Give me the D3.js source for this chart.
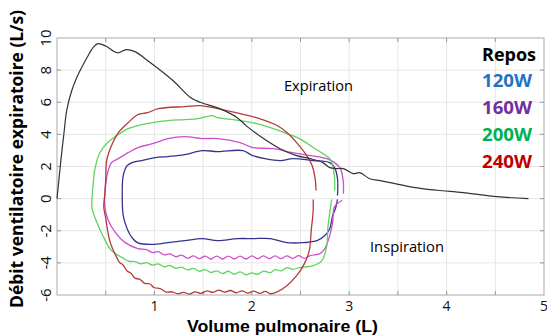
<!DOCTYPE html>
<html>
<head>
<meta charset="utf-8">
<script src="https://cdn.jsdelivr.net/npm/d3@7"></script>
<style>
  body { margin: 0; background: #fff; }
  text { font-family: "Open Sans", sans-serif; }
</style>
</head>
<body>
<svg id="chart" width="547" height="336"></svg>
<script>
const xTicks = [1, 2, 3, 4, 5];
const yTicks = [-6, -4, -2, 0, 2, 4, 6, 8, 10];
const legendLabels = ["Repos", "120W", "160W", "200W", "240W"];
const legendColors = ["#000000", "#1f74c4", "#7030a0", "#00b050", "#c00000"];

// [volume (L), debit (L/s)]
const reposCurve = [
  [0, 0], [0.02, 1.2], [0.04, 2.4], [0.07, 4.0], [0.1, 5.5], [0.15, 6.7], [0.2, 7.5],
  [0.31, 8.8], [0.37, 9.4], [0.42, 9.65], [0.5, 9.5], [0.62, 9.08], [0.71, 9.28],
  [0.8, 9.15], [0.95, 8.5], [1.19, 7.35], [1.37, 6.3], [1.47, 6.0], [1.67, 5.6],
  [1.85, 5.04], [1.95, 4.5], [2.12, 3.74], [2.29, 3.11], [2.46, 2.68], [2.6, 2.49],
  [2.73, 2.24], [2.8, 1.93], [2.87, 1.87], [2.94, 1.87], [3.04, 1.56], [3.11, 1.62],
  [3.21, 1.24], [3.32, 1.12], [3.42, 1.0], [3.66, 0.7], [3.9, 0.52], [4.17, 0.37],
  [4.52, 0.12], [4.84, 0.0]
];

const loop120 = [
  [2.88, -0.05], [2.86, -0.6], [2.83, -1.06], [2.8, -1.87], [2.75, -2.3], [2.67, -2.62],
  [2.53, -2.74], [2.36, -2.74], [2.19, -2.49], [2.01, -2.49], [1.85, -2.49], [1.65, -2.62],
  [1.49, -2.49], [1.31, -2.62], [1.14, -2.74], [0.98, -2.85], [0.83, -2.76], [0.77, -2.43],
  [0.72, -1.87], [0.68, -1.06], [0.67, 0], [0.68, 1.43], [0.72, 2.05], [0.77, 2.24],
  [0.87, 2.37], [1.01, 2.55], [1.14, 2.62], [1.31, 2.74], [1.49, 2.99], [1.65, 2.93],
  [1.91, 2.99], [2.01, 2.68], [2.29, 2.37], [2.42, 2.49], [2.63, 2.37], [2.8, 2.24],
  [2.85, 1.93], [2.88, 1.25], [2.88, 0.19]
];

const loop160 = [
  [2.93, -0.1], [2.85, -0.5], [2.83, -1.49], [2.8, -2.3], [2.75, -3.11], [2.7, -3.42],
  [2.6, -3.55], [2.54, -3.72], [2.48, -3.55], [2.42, -3.72], [2.36, -3.56], [2.3, -3.74],
  [2.24, -3.56], [2.18, -3.74], [2.12, -3.56], [2.06, -3.74], [2.0, -3.56], [1.94, -3.76],
  [1.88, -3.58], [1.82, -3.76], [1.76, -3.58], [1.7, -3.76], [1.64, -3.58], [1.58, -3.76],
  [1.52, -3.58], [1.46, -3.74], [1.4, -3.56], [1.34, -3.72], [1.28, -3.52], [1.22, -3.62],
  [1.16, -3.44], [1.1, -3.5], [1.04, -3.3], [0.98, -3.36], [0.92, -3.18], [0.83, -3.11],
  [0.7, -2.74], [0.6, -2.12], [0.52, -1.25], [0.49, -0.44], [0.49, 0.19], [0.52, 1.62],
  [0.56, 2.24], [0.63, 2.49], [0.73, 2.86], [0.83, 3.18], [0.98, 3.42], [1.14, 3.74],
  [1.31, 3.86], [1.49, 3.74], [1.65, 3.74], [1.88, 3.49], [2.01, 3.18], [2.22, 3.11],
  [2.42, 2.86], [2.6, 2.68], [2.77, 2.49], [2.85, 2.24], [2.91, 1.87], [2.94, 1.0],
  [2.94, 0.31]
];

const loop200 = [
  [2.82, -0.05], [2.8, -0.9], [2.78, -1.87], [2.77, -2.93], [2.72, -3.86], [2.63, -4.17],
  [2.49, -4.3], [2.42, -4.4], [2.36, -4.3], [2.3, -4.5], [2.24, -4.42], [2.19, -4.61],
  [2.12, -4.52], [2.06, -4.72], [2.0, -4.62], [1.94, -4.74], [1.88, -4.56], [1.82, -4.7],
  [1.76, -4.52], [1.7, -4.66], [1.64, -4.5], [1.58, -4.6], [1.52, -4.42], [1.46, -4.52],
  [1.4, -4.34], [1.34, -4.44], [1.28, -4.26], [1.22, -4.34], [1.16, -4.16], [1.1, -4.24],
  [1.04, -4.06], [0.98, -4.14], [0.92, -3.98], [0.86, -4.06], [0.8, -3.92], [0.74, -3.9],
  [0.67, -3.67], [0.56, -3.24], [0.47, -2.3], [0.41, -1.49], [0.36, -0.62], [0.36, 0],
  [0.37, 0.8], [0.39, 1.87], [0.44, 2.86], [0.52, 3.49], [0.63, 3.99], [0.73, 4.36],
  [0.83, 4.55], [0.98, 4.73], [1.14, 4.86], [1.31, 4.92], [1.45, 4.98], [1.59, 5.17],
  [1.65, 5.04], [1.88, 4.86], [2.05, 4.67], [2.22, 4.36], [2.36, 4.05], [2.49, 3.74],
  [2.63, 3.18], [2.73, 2.8], [2.8, 2.49], [2.83, 2.05], [2.85, 1.25], [2.85, 0.5]
];

const loop240 = [
  [2.63, -0.05], [2.63, -0.75], [2.61, -1.99], [2.59, -3.24], [2.53, -4.17], [2.46, -4.79],
  [2.36, -5.42], [2.26, -5.8], [2.19, -5.92], [2.14, -5.78], [2.08, -5.9], [2.02, -5.76],
  [1.96, -5.88], [1.9, -5.74], [1.84, -5.86], [1.78, -5.72], [1.72, -5.82], [1.66, -5.7],
  [1.6, -5.84], [1.54, -5.74], [1.48, -5.9], [1.42, -5.8], [1.36, -5.94], [1.3, -5.84],
  [1.24, -5.92], [1.18, -5.8], [1.12, -5.82], [1.06, -5.6], [1.0, -5.55], [0.95, -5.3],
  [0.9, -5.28], [0.85, -5.02], [0.8, -4.95], [0.76, -4.65], [0.72, -4.5], [0.68, -4.15],
  [0.64, -3.95], [0.6, -3.5], [0.57, -3.1], [0.54, -2.6], [0.52, -2.0], [0.5, -1.2],
  [0.48, -0.5], [0.49, 0.2], [0.5, 1.2], [0.51, 2.37], [0.56, 3.3], [0.63, 4.11],
  [0.73, 4.73], [0.83, 5.23], [0.93, 5.35], [1.04, 5.6], [1.31, 5.73], [1.47, 5.79],
  [1.65, 5.6], [1.88, 5.29], [2.08, 4.98], [2.26, 4.55], [2.36, 4.11], [2.46, 3.49],
  [2.55, 2.8], [2.62, 2.05], [2.65, 1.25], [2.66, 0.5]
];

const loops = [
  { data: loop120, color: "#34348f" },
  { data: loop160, color: "#cc4fcc" },
  { data: loop200, color: "#5ed35e" },
  { data: loop240, color: "#b23c3c" }
];

const svg = d3.select("#chart");
const plotLeft = 57, plotRight = 544, plotTop = 38, plotBottom = 295;

const x = d3.scaleLinear().domain([0, 5]).range([plotLeft, plotRight]);
const y = d3.scaleLinear().domain([-6, 10]).range([plotBottom, plotTop]);

// grid
svg.append("g")
  .selectAll("line")
  .data(d3.range(0.5, 5, 0.5))
  .join("line")
  .attr("x1", d => x(d)).attr("x2", d => x(d))
  .attr("y1", plotTop).attr("y2", plotBottom)
  .attr("stroke", "#e6e6e6");

svg.append("g")
  .selectAll("line")
  .data(d3.range(-4, 10, 2))
  .join("line")
  .attr("x1", plotLeft).attr("x2", plotRight)
  .attr("y1", d => y(d)).attr("y2", d => y(d))
  .attr("stroke", "#e6e6e6");

// frame and inner ticks
svg.append("rect")
  .attr("x", plotLeft).attr("y", plotTop)
  .attr("width", plotRight - plotLeft).attr("height", plotBottom - plotTop)
  .attr("fill", "none").attr("stroke", "#aaa");

const xMinor = d3.range(0.5, 5, 0.5);
svg.append("g").selectAll("line").data(xMinor).join("line")
  .attr("x1", d => x(d)).attr("x2", d => x(d))
  .attr("y1", plotBottom).attr("y2", plotBottom - 4).attr("stroke", "#999");
svg.append("g").selectAll("line").data(xMinor).join("line")
  .attr("x1", d => x(d)).attr("x2", d => x(d))
  .attr("y1", plotTop).attr("y2", plotTop + 4).attr("stroke", "#999");
const yMinor = d3.range(-4, 10, 2);
svg.append("g").selectAll("line").data(yMinor).join("line")
  .attr("x1", plotLeft).attr("x2", plotLeft + 4)
  .attr("y1", d => y(d)).attr("y2", d => y(d)).attr("stroke", "#999");
svg.append("g").selectAll("line").data(yMinor).join("line")
  .attr("x1", plotRight).attr("x2", plotRight - 4)
  .attr("y1", d => y(d)).attr("y2", d => y(d)).attr("stroke", "#999");

// tick labels
svg.append("g").selectAll("text").data(xTicks).join("text")
  .attr("x", d => x(d)).attr("y", 311)
  .attr("text-anchor", "middle")
  .attr("font-size", 14).attr("fill", "#111")
  .text(d => d);

svg.append("g").selectAll("text").data(yTicks).join("text")
  .attr("transform", d => `translate(46,${y(d)}) rotate(-90)`)
  .attr("text-anchor", "middle").attr("dy", "0.35em")
  .attr("font-size", 15).attr("fill", "#111")
  .text(d => d);

// curves
const line = d3.line()
  .x(d => x(d[0]))
  .y(d => y(d[1]))
  .curve(d3.curveCatmullRom.alpha(0.5));

svg.append("g").selectAll("path").data(loops).join("path")
  .attr("d", d => line(d.data))
  .attr("fill", "none")
  .attr("stroke", d => d.color)
  .attr("stroke-width", 1.3);

svg.append("path")
  .attr("d", line(reposCurve))
  .attr("fill", "none")
  .attr("stroke", "#333")
  .attr("stroke-width", 1.2);

// annotations
svg.append("text").attr("x", 284).attr("y", 91)
  .attr("font-size", 15).attr("textLength", 69).attr("lengthAdjust", "spacingAndGlyphs")
  .text("Expiration");
svg.append("text").attr("x", 370).attr("y", 252)
  .attr("font-size", 15).attr("textLength", 74).attr("lengthAdjust", "spacingAndGlyphs")
  .text("Inspiration");

// legend
const legendY = [61, 87, 114, 141, 168];
const legendW = [54, 50, 50, 50, 50];
svg.append("g").selectAll("text").data(legendLabels).join("text")
  .attr("x", 482).attr("y", (d, i) => legendY[i])
  .attr("font-size", 17).attr("font-weight", "bold")
  .attr("fill", (d, i) => legendColors[i])
  .attr("textLength", (d, i) => legendW[i]).attr("lengthAdjust", "spacingAndGlyphs")
  .text(d => d);

// axis titles
svg.append("text").attr("x", 187).attr("y", 332)
  .style("font-family", "'Liberation Sans', sans-serif")
  .attr("font-size", 17).attr("font-weight", "bold")
  .attr("textLength", 191).attr("lengthAdjust", "spacingAndGlyphs")
  .text("Volume pulmonaire (L)");

svg.append("text")
  .attr("transform", "translate(23,308) rotate(-90)")
  .attr("font-size", 18).attr("font-weight", "bold")
  .attr("textLength", 298).attr("lengthAdjust", "spacingAndGlyphs")
  .text("Débit ventilatoire expiratoire (L/s)");
</script>
</body>
</html>
